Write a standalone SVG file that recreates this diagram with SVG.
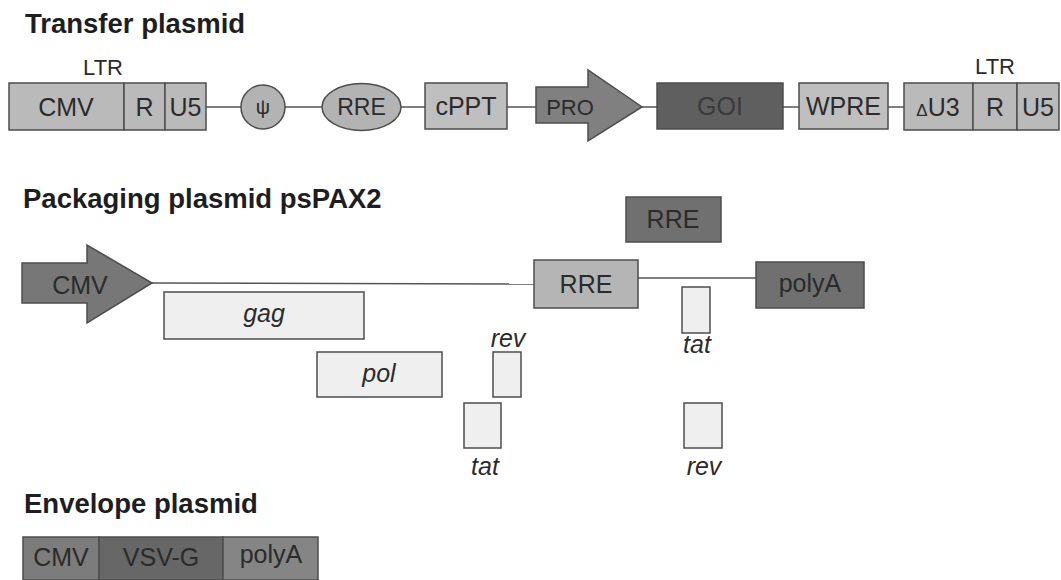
<svg xmlns="http://www.w3.org/2000/svg" width="1061" height="580" viewBox="0 0 1061 580">
<style>
text{font-family:"Liberation Sans",Arial,sans-serif;fill:#2b2b2b;text-anchor:middle}
.title{font-weight:bold;font-size:27.5px;text-anchor:start;fill:#1e1e1e}
.lbl{font-size:25px}
.sm{font-size:22px}
.it{font-style:italic;font-size:25px}
.shape{stroke:#4d4d4d;stroke-width:1.5}
.lt{fill:#bababa}
.lt2{fill:#bfbfbf}
.md{fill:#808080}
.dk{fill:#5f5f5f}
.dk2{fill:#707070}
.pale{fill:#efefef}
.conn{stroke:#555;stroke-width:1.5;fill:none}
</style>
<rect width="1061" height="580" fill="#ffffff"/>

<text class="title" x="25" y="33">Transfer plasmid</text>
<text class="title" x="23" y="208">Packaging plasmid psPAX2</text>
<text class="title" x="24" y="513">Envelope plasmid</text>

<g id="connectors">
<line class="conn" x1="206" y1="107" x2="241" y2="107"/>
<line class="conn" x1="285" y1="107" x2="322" y2="107"/>
<line class="conn" x1="401" y1="107" x2="425" y2="107"/>
<line class="conn" x1="507" y1="107" x2="536" y2="107"/>
<line class="conn" x1="642" y1="107" x2="657" y2="107"/>
<line class="conn" x1="783" y1="107" x2="799" y2="107"/>
<line class="conn" x1="888" y1="107" x2="904" y2="107"/>
<line class="conn" x1="152" y1="283" x2="534" y2="284"/>
<line class="conn" x1="638" y1="278" x2="756" y2="278"/>
</g>

<g id="ltr-left">
<text class="sm" x="103" y="75">LTR</text>
<rect class="shape lt" x="9" y="83" width="115" height="47"/>
<text class="lbl" x="66" y="116">CMV</text>
<rect class="shape lt" x="124" y="83" width="41" height="47"/>
<text class="lbl" x="144.5" y="116">R</text>
<rect class="shape lt" x="165" y="83" width="41" height="47"/>
<text class="lbl" x="185.5" y="116">U5</text>
</g>
<g id="psi">
<circle class="shape" fill="#b3b3b3" cx="263" cy="107" r="22"/>
<text x="263" y="114" style="font-size:20px">ψ</text>
</g>
<g id="rre-t">
<ellipse class="shape" fill="#b3b3b3" cx="361.5" cy="107" rx="39.5" ry="23.5"/>
<text x="361.5" y="115" style="font-size:23px">RRE</text>
</g>
<g id="cppt">
<rect class="shape lt2" x="425" y="83" width="82" height="46"/>
<text class="lbl" x="466" y="115">cPPT</text>
</g>
<g id="pro">
<polygon class="shape md" points="536,87 588,87 588,70 642,107 588,141 588,123 536,123"/>
<text class="sm" x="570" y="115">PRO</text>
</g>
<g id="goi">
<rect class="shape dk" x="657" y="83" width="126" height="46"/>
<text class="lbl" x="720" y="115" style="fill:#3a3a3a">GOI</text>
</g>
<g id="wpre">
<rect class="shape lt2" x="799" y="83" width="89" height="46"/>
<text class="lbl" x="843.5" y="115">WPRE</text>
</g>
<g id="ltr-right">
<text class="sm" x="995" y="74">LTR</text>
<rect class="shape lt" x="904" y="83" width="69" height="47"/>
<text class="lbl" x="938" y="116"><tspan style="font-size:17px">Δ</tspan>U3</text>
<rect class="shape lt" x="973" y="83" width="44" height="47"/>
<text class="lbl" x="995" y="116">R</text>
<rect class="shape lt" x="1017" y="83" width="42" height="47"/>
<text class="lbl" x="1038" y="116">U5</text>
</g>

<g id="cmv-pack">
<polygon class="shape" fill="#777777" points="22,263 87,263 87,245 152,283 87,323 87,303 22,303"/>
<text class="lbl" x="80" y="294">CMV</text>
</g>
<g id="gag">
<rect class="shape pale" x="164" y="292" width="200" height="47"/>
<text class="it" x="264" y="322">gag</text>
</g>
<g id="pol">
<rect class="shape pale" x="317" y="352" width="125" height="45"/>
<text class="it" x="379" y="382">pol</text>
</g>
<g id="rev-left">
<text class="it" x="508" y="347">rev</text>
<rect class="shape pale" x="493" y="352" width="28" height="45"/>
</g>
<g id="tat-left">
<rect class="shape pale" x="464" y="403" width="37" height="45"/>
<text class="it" x="485" y="475">tat</text>
</g>
<g id="rre-top">
<rect class="shape dk2" x="626" y="197" width="95" height="45"/>
<text class="lbl" x="673" y="228">RRE</text>
</g>
<g id="rre-mid">
<rect class="shape" fill="#b5b5b5" x="534" y="260" width="104" height="48"/>
<text class="lbl" x="586" y="293">RRE</text>
</g>
<g id="polya-pack">
<rect class="shape dk2" x="756" y="262" width="108" height="46"/>
<text class="lbl" x="810" y="292">polyA</text>
</g>
<g id="tat-right">
<rect class="shape pale" x="682" y="287" width="28" height="46"/>
<text class="it" x="697" y="353">tat</text>
</g>
<g id="rev-right">
<rect class="shape pale" x="684" y="403" width="38" height="45"/>
<text class="it" x="704" y="475">rev</text>
</g>

<g id="env-cmv">
<rect class="shape" fill="#7c7c7c" x="23" y="537" width="76" height="43"/>
<text class="lbl" x="61" y="566">CMV</text>
</g>
<g id="env-vsvg">
<rect class="shape" fill="#676767" x="99" y="537" width="124" height="43"/>
<text class="lbl" x="161" y="566">VSV-G</text>
</g>
<g id="env-polya">
<rect class="shape" fill="#858585" x="223" y="537" width="95" height="43"/>
<text class="lbl" x="271" y="563">polyA</text>
</g>
</svg>
